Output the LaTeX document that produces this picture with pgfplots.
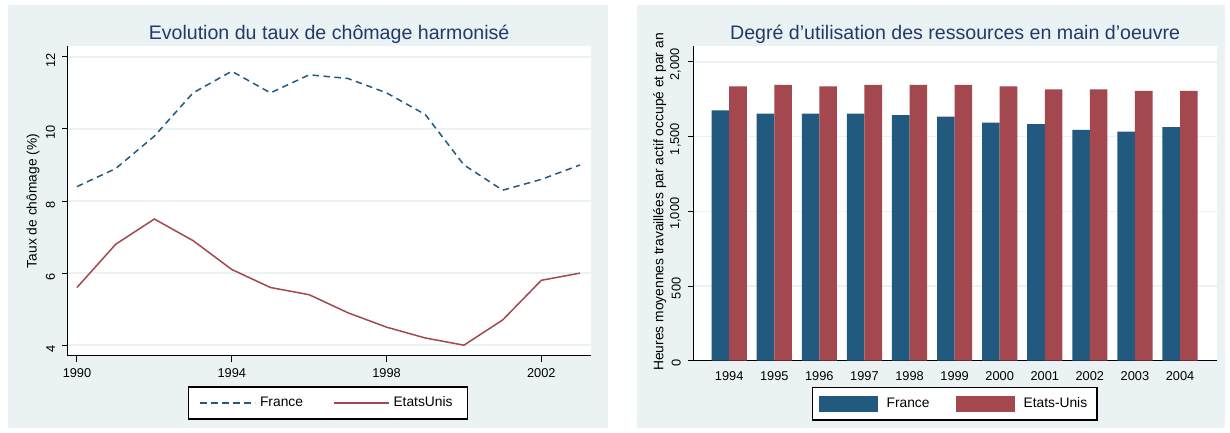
\documentclass[border=0pt]{standalone}
\usepackage{fontspec}
\setmainfont{Liberation Sans}
\usepackage{pgfplots}
\pgfplotsset{compat=1.18}
\definecolor{bg}{RGB}{234,242,243}
\definecolor{gridc}{RGB}{234,242,243}
\definecolor{sblue}{RGB}{34,89,126}
\definecolor{sred}{RGB}{163,72,78}
\definecolor{ttl}{RGB}{35,58,105}

\pgfplotsset{
  lineleg/.style={legend image code/.code={\draw[##1] (0pt,0pt) -- (27.5pt,0pt);}},
  barleg/.style={legend image code/.code={\fill[##1] (0pt,-4pt) rectangle (29.5pt,4pt); \path (32pt,0pt);}},
  staxis/.style={
    scale only axis,
    axis x line*=bottom, axis y line*=left,
    axis line style={-, black, line width=0.5pt},
    tick align=outside,
    major tick length=2.8pt,
    tick style={black, line width=0.5pt},
    ymajorgrids,
    grid style={color=gridc, line width=0.7pt},
    axis background/.style={fill=white},
    ticklabel style={font=\fontsize{6.4}{7}\selectfont},
    /pgf/number format/assume math mode=true,
    yticklabel style={rotate=90, anchor=south, xshift=-1.8pt},
    title style={font=\fontsize{9.8}{11}\selectfont, color=ttl, at={(0.5,1)}, anchor=center, yshift=0pt},
    ylabel style={font=\fontsize{6.9}{8}\selectfont, anchor=center},
    legend style={draw=black, line width=0.8pt, fill=white,
      font=\fontsize{6.9}{8}\selectfont, legend columns=2,
      inner ysep=2.8pt,
      /tikz/every even column/.append style={column sep=13pt}},
    legend cell align=left,
  }
}

\pgfplotstableread{
year france us
1990 8.4 5.6
1991 8.9 6.8
1992 9.8 7.5
1993 11.0 6.9
1994 11.6 6.1
1995 11.0 5.6
1996 11.5 5.4
1997 11.4 4.9
1998 11.0 4.5
1999 10.4 4.2
2000 9.0 4.0
2001 8.3 4.7
2002 8.6 5.8
2003 9.0 6.0
}\chomage

\pgfplotstableread{
year france us
1994 1676 1837
1995 1655 1846
1996 1655 1837
1997 1655 1846
1998 1644 1846
1999 1634 1846
2000 1594 1837
2001 1584 1817
2002 1545 1817
2003 1534 1806
2004 1563 1806
}\heures

\begin{document}
\begin{tikzpicture}
\fill[white] (0pt,0pt) rectangle (615pt,216.5pt);
\fill[bg] (4pt,2.5pt) rectangle (304pt,214pt);
\fill[bg] (318.5pt,2.5pt) rectangle (612.5pt,214pt);

\begin{axis}[staxis,
  at={(33.85pt,38.5pt)}, anchor=south west,
  width=261.4pt, height=155pt,
  xmin=1989.76, xmax=2003.27, ymin=3.70, ymax=12.30,
  xtick={1990,1994,1998,2002}, ytick={4,6,8,10,12},
  xticklabel style={/pgf/number format/1000 sep={}},
  title={Evolution du taux de chômage harmonisé},
  ylabel={Taux de chômage (\%)},
  ylabel style={at={(axis description cs:-0.0664,0.5)}},
  legend style={at={(0.498,-0.152)}, anchor=center, inner xsep=5.5pt},
]
\addplot[sblue, line width=0.75pt, dash pattern=on 3.2pt off 2.3pt, lineleg]
  table[x=year, y=france] {\chomage};
\addlegendentry{France}
\addplot[sred, line width=0.75pt, lineleg]
  table[x=year, y=us] {\chomage};
\addlegendentry{EtatsUnis}
\end{axis}

\begin{axis}[staxis,
  at={(346.65pt,36.15pt)}, anchor=south west,
  width=261.85pt, height=157.2pt,
  xmin=1993.204, xmax=2004.82, ymin=0, ymax=2105,
  xtick={1994,1995,...,2004}, ytick={0,500,1000,1500,2000},
  xticklabel style={/pgf/number format/1000 sep={}, yshift=1pt},
  yticklabel style={/pgf/number format/1000 sep={,}, xshift=0.6pt},
  xtick style={draw=none},
  title={Degré d'utilisation des ressources en main d'oeuvre},
  ylabel={Heures moyennes travaillées par actif occupé et par an},
  ylabel style={at={(axis description cs:-0.064,0.505)}},
  legend style={at={(0.4995,-0.137)}, anchor=center, inner xsep=3pt,
    /tikz/every even column/.append style={column sep=11pt}},
]
\addplot[ybar, bar width=0.39, bar shift=-0.195, fill=sblue, draw=none, barleg]
  table[x=year, y=france] {\heures};
\addlegendentry{France}
\addplot[ybar, bar width=0.39, bar shift=0.195, fill=sred, draw=none, barleg]
  table[x=year, y=us] {\heures};
\addlegendentry{Etats-Unis}
\end{axis}
\end{tikzpicture}
\end{document}
